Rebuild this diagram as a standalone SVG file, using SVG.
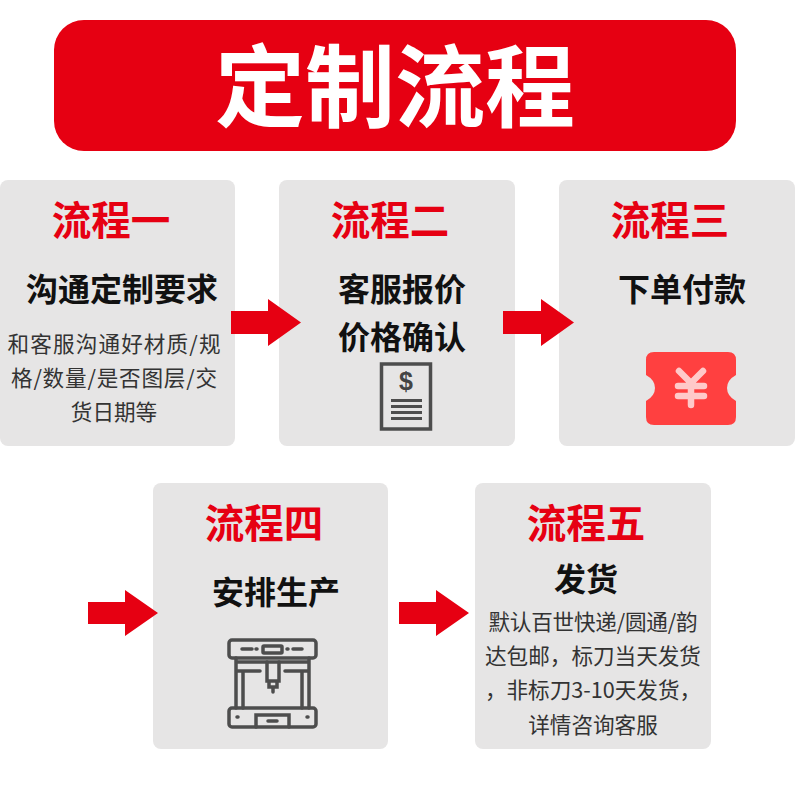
<svg xmlns="http://www.w3.org/2000/svg" width="800" height="800" viewBox="0 0 800 800">
<style>
text{font-family:"Noto Sans CJK SC","Noto Sans",sans-serif;text-anchor:middle}
.card{fill:#e6e5e5}
.h{font-size:39.500px;font-weight:700;fill:#e60012}
.s{font-size:32px;font-weight:700;fill:#111}
.b{font-size:21.600px;font-weight:400;fill:#333}
.ln{fill:none;stroke:#4d4d4d;stroke-width:3.5}
.ar{fill:#e60012}
</style>
<rect width="800" height="800" fill="#fff"/>
<g id="title"><rect x="54" y="20" width="682" height="131" rx="30" fill="#e60012"/>
<text x="395" y="120" fill="#fff" style="font-size:90px;font-weight:700">定制流程</text></g>
<g id="step1"><rect class="card" x="0" y="180" width="235" height="266" rx="8"/>
<text class="h" x="111" y="235">流程一</text>
<text class="s" x="122" y="301">沟通定制要求</text>
<text class="b" x="114" y="352" textLength="213">和客服沟通好材质/规</text>
<text class="b" x="114" y="386" textLength="206">格/数量/是否图层/交</text>
<text class="b" x="114" y="420">货日期等</text></g>
<g id="step2"><rect class="card" x="279" y="180" width="236" height="266" rx="8"/>
<text class="h" x="390" y="235">流程二</text>
<text class="s" x="402" y="301">客服报价</text>
<text class="s" x="402" y="349">价格确认</text>
<rect x="381.500" y="364" width="49" height="65" fill="none" stroke="#4d4d4d" stroke-width="3.500"/>
<text x="406" y="390" fill="#444" style="font-family:'Liberation Sans',sans-serif;font-size:25px;font-weight:700">$</text>
<path d="M391 400.500h31M391 406.500h31M391 412.500h31M391 418.500h31" stroke="#4d4d4d" stroke-width="3" fill="none"/></g>
<g id="step3"><rect class="card" x="559" y="180" width="236" height="266" rx="8"/>
<text class="h" x="670" y="235">流程三</text>
<text class="s" x="682" y="301">下单付款</text>
<path d="M654 352H728Q736 352 736 360V375Q727 380 727 388Q727 396 736 401V417Q736 425 728 425H654Q646 425 646 417V401Q655 396 655 388Q655 380 646 375V360Q646 352 654 352Z" fill="#ff4040"/>
<path d="M679 371L691 383L703 371M691 383V405M678 386H704M678 396H704" fill="none" stroke="#ffc9c9" stroke-width="6.500" stroke-linecap="round" stroke-linejoin="round"/></g>
<g id="step4"><rect class="card" x="153" y="483" width="235" height="266" rx="8"/>
<text class="h" x="264" y="538">流程四</text>
<text class="s" x="276" y="604">安排生产</text>
<g class="ln" stroke-linecap="round">
<rect x="229" y="640" width="87" height="18" rx="3"/>
<rect x="263" y="646" width="19" height="7" rx="1"/>
<path d="M242 649h10M256 649h1M287 649h1M293 649h9"/>
<path d="M236 658V708M309 658V708M236 662H309M236 671H260M285 671H309M243 671V708M302 671V708"/>
<path d="M267 662V681H279V662M269 681V687H277V681M273 687V692"/>
<rect x="229" y="708" width="87" height="19" rx="3"/>
<path d="M256 727V715H289V727M268 721h9M237 717h1M307 717h1"/>
</g></g>
<g id="step5"><rect class="card" x="475" y="483" width="236" height="266" rx="8"/>
<text class="h" x="586" y="538">流程五</text>
<text class="s" x="586" y="591">发货</text>
<text class="b" x="593" y="630" textLength="209">默认百世快递/圆通/韵</text>
<text class="b" x="593" y="664">达包邮，标刀当天发货</text>
<text class="b" x="593" y="698">，非标刀3-10天发货，</text>
<text class="b" x="593" y="733">详情咨询客服</text></g>
<g id="connectors">
<path class="ar" d="M231 311H268V299L301 322.500L268 346V334H231Z"/>
<path class="ar" d="M503 311H541V299L574 322.500L541 346V334H503Z"/>
<path class="ar" d="M88 602H125V590L158 613L125 636V624H88Z"/>
<path class="ar" d="M399 602H436V590L469 613L436 636V624H399Z"/>
</g>
</svg>
